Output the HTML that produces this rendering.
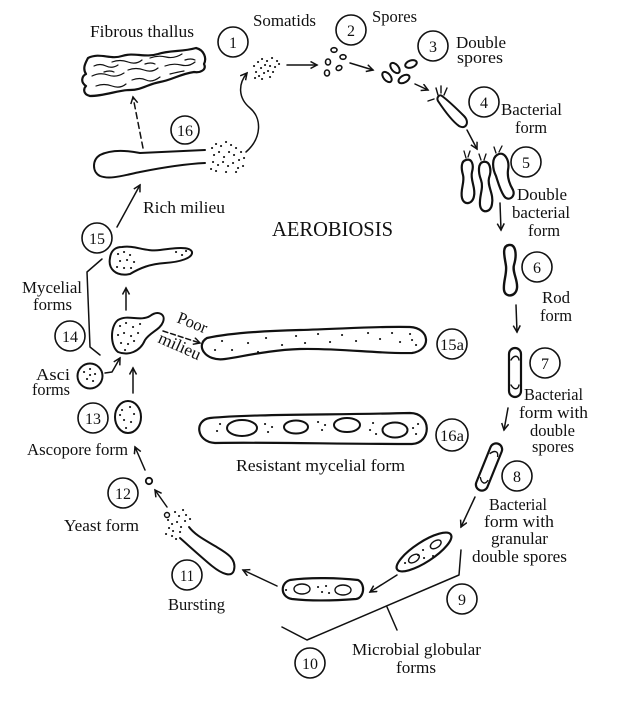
<!DOCTYPE html>
<html><head><meta charset="utf-8"><style>
html,body{margin:0;padding:0;background:#fff;}
svg{display:block;}
text{font-family:"Liberation Serif",serif;fill:#111;}
.l{font-size:17px;}
.n{font-size:16px;text-anchor:middle;}
</style></head><body>
<svg width="625" height="703" viewBox="0 0 625 703" xmlns="http://www.w3.org/2000/svg">
<defs>
<marker id="a" markerWidth="10" markerHeight="10" refX="7" refY="4" orient="auto" markerUnits="userSpaceOnUse">
<path d="M0.5,0.5 L7,4 L0.5,7.5" fill="none" stroke="#111" stroke-width="1.5"/>
</marker>
</defs>
<rect width="625" height="703" fill="#fff"/>
<g fill="none" stroke="#111" stroke-width="1.6" stroke-linecap="round" stroke-linejoin="round">
<!-- numbered circles -->
<circle cx="233" cy="42" r="15"/><circle cx="351" cy="30" r="15"/><circle cx="433" cy="46" r="15"/>
<circle cx="484" cy="102" r="15"/><circle cx="526" cy="162" r="15"/><circle cx="537" cy="267" r="15"/>
<circle cx="545" cy="363" r="15"/><circle cx="517" cy="476" r="15"/><circle cx="462" cy="599" r="15"/>
<circle cx="310" cy="663" r="15"/><circle cx="187" cy="575" r="15"/><circle cx="123" cy="493" r="15"/>
<circle cx="93" cy="418" r="15"/><circle cx="70" cy="336" r="15"/><circle cx="97" cy="238" r="15"/>
<circle cx="185" cy="130" r="14"/><circle cx="452" cy="344" r="15"/><circle cx="452" cy="435" r="16"/>

<!-- arrows -->
<g marker-end="url(#a)" stroke-width="1.5">
<path d="M287,65 L317,65"/>
<path d="M350,63 L373,70"/>
<path d="M415,84 L428,90"/>
<path d="M467,130 L477,149"/>
<path d="M500,203 L501,230"/>
<path d="M516,305 L517,332"/>
<path d="M508,408 L504,430"/>
<path d="M475,497 L461,527"/>
<path d="M397,575 L370,592"/>
<path d="M277,586 L243,570"/>
<path d="M167,507 L155,490"/>
<path d="M145,470 L135,447"/>
<path d="M133,393 L133,368"/>
<path d="M105,373 L112,372 L120,358"/>
<path d="M126,310 L126,288"/>
<path d="M117,227 L140,185"/>
<path d="M143,148 L133,97" stroke-dasharray="6,4"/>
<path d="M163,331 L200,343" stroke-dasharray="5,3"/>
<path d="M246,152 C262,138 262,118 250,108 C238,98 238,84 247,73"/>
</g>

<!-- brackets -->
<path d="M102,259 L87,272 L90,347 L100,355" stroke-width="1.5"/>
<path d="M282,627 L307,640 L459,575 L461,550" stroke-width="1.5"/>
<path d="M387,607 L397,630" stroke-width="1.5"/>

<!-- fibrous thallus -->
<path stroke-width="2.2" d="M88,58 C100,52 110,60 122,56 C134,52 145,58 158,54 C170,50 182,52 196,48 C204,50 207,58 204,64 C207,70 200,73 194,72 C180,74 172,80 160,82 C148,84 142,90 130,90 C118,90 105,96 90,96 C82,94 84,88 86,86 C80,82 82,76 86,74 C82,68 86,62 88,58 Z"/>
<g stroke-width="1.2">
<path d="M94,66 q6,-3 12,0 t12,-1"/><path d="M112,62 q8,-3 16,0 t14,-2"/><path d="M150,58 q8,-3 16,-1 t16,-3"/>
<path d="M92,76 q8,-4 16,-1 t16,-2"/><path d="M128,70 q8,-3 16,0 t14,-2"/><path d="M165,66 q8,-3 16,-1 t14,-3"/>
<path d="M96,86 q8,-3 16,0 t14,-2"/><path d="M132,80 q8,-3 14,0 t14,-3"/><path d="M170,74 q8,-2 14,-3"/>
<path d="M104,72 q6,-2 10,0"/><path d="M145,64 q6,-2 10,0"/><path d="M185,60 q6,-2 10,0"/>
</g>

<!-- form 16 -->
<path stroke-width="2" d="M205,150 C180,151 160,152 140,153 C125,150 110,150 100,155 C92,160 92,172 100,176 C110,180 125,175 140,172 C160,168 185,164 205,163"/>

<!-- spores -->
<g stroke-width="1.6">
<ellipse cx="334" cy="50" rx="3" ry="2.3"/><ellipse cx="343" cy="57" rx="3" ry="2.3"/>
<ellipse cx="328" cy="62" rx="2.5" ry="3"/><ellipse cx="339" cy="68" rx="3" ry="2.3" transform="rotate(-30 339 68)"/>
<ellipse cx="327" cy="73" rx="2.5" ry="3"/>
</g>
<!-- double spores -->
<g stroke-width="2">
<ellipse cx="387" cy="77" rx="3.5" ry="6" transform="rotate(-40 387 77)"/>
<ellipse cx="395" cy="68" rx="3.5" ry="6" transform="rotate(-40 395 68)"/>
<ellipse cx="411" cy="64" rx="6" ry="3.5" transform="rotate(-20 411 64)"/>
<ellipse cx="404" cy="79" rx="6" ry="3.5" transform="rotate(-30 404 79)"/>
</g>
<!-- bacterial form 4 -->
<path stroke-width="2" d="M442,96 C450,102 458,110 464,116 C470,122 466,130 459,126 C452,121 444,110 438,101 C436,97 440,94 442,96 Z"/>
<path stroke-width="1.4" d="M438,95 L436,88 M441,93 L441,86 M444,95 L447,88 M428,101 L434,99"/>
<!-- double bacterial 5 -->
<g stroke-width="2.2">
<path d="M466,160 C472,158 474,165 472,172 C470,180 476,188 474,196 C473,204 464,206 462,198 C460,190 465,182 463,175 C461,168 461,161 466,160 Z"/>
<path d="M483,162 C490,160 492,170 489,178 C487,186 494,194 492,204 C491,213 481,214 480,205 C479,196 484,188 481,180 C478,172 478,163 483,162 Z"/>
<path d="M497,155 C504,150 510,160 508,170 C507,178 510,185 513,190 C516,197 508,202 504,196 C500,190 498,182 496,176 C492,168 492,158 497,155 Z"/>
</g>
<path stroke-width="1.3" d="M466,158 L464,151 M468,157 L470,151 M481,160 L479,154 M484,160 L486,154 M496,153 L494,147 M499,152 L502,146"/>
<!-- rod 6 -->
<path stroke-width="2.4" d="M509,245 C516,244 517,255 514,265 C512,272 518,280 517,288 C516,297 505,298 504,290 C503,282 507,274 506,266 C505,258 501,246 509,245 Z"/>
<!-- rod 7 -->
<rect x="509" y="348" width="12" height="49" rx="6" stroke-width="2.2"/>
<path stroke-width="1.4" d="M511,360 C514,355 518,355 519,360 M511,385 C514,390 518,390 519,385"/>
<!-- rod 8 -->
<g transform="rotate(22 489 467)">
<rect x="483" y="442" width="12" height="50" rx="6" stroke-width="2.2"/>
<path stroke-width="1.4" d="M485,454 C488,449 492,449 493,454 M485,480 C488,485 492,485 493,480"/>
</g>
<!-- form 9 -->
<g transform="rotate(-33 424 552)" stroke-width="2.2">
<ellipse cx="424" cy="552" rx="32" ry="10"/>
<ellipse cx="412" cy="552" rx="6" ry="3.5" stroke-width="1.4"/>
<ellipse cx="438" cy="552" rx="6" ry="3.5" stroke-width="1.4"/>
</g>
<!-- form 10 -->
<path stroke-width="2.2" d="M290,580 C310,577 340,578 358,580 C366,584 364,598 356,599 C330,601 310,601 292,599 C280,597 280,583 290,580 Z"/>
<ellipse cx="302" cy="589" rx="8" ry="5" stroke-width="1.4"/>
<ellipse cx="343" cy="590" rx="8" ry="5" stroke-width="1.4"/>
<!-- form 11 -->
<path stroke-width="2" d="M189,527 C195,535 205,540 215,546 C225,552 237,558 234,570 C232,578 222,574 212,566 C200,556 188,545 180,538"/>
<!-- yeast 12 -->
<circle cx="149" cy="481" r="3.2" stroke-width="1.8"/>
<circle cx="167" cy="515" r="2.5" stroke-width="1.4"/>
<!-- ascopore 13 -->
<ellipse cx="128" cy="417" rx="13" ry="16" stroke-width="2"/>
<!-- asci -->
<circle cx="90" cy="376" r="12.5" stroke-width="2"/>
<!-- form 14 -->
<path stroke-width="2" d="M118,320 C128,314 140,322 150,316 C158,310 166,314 163,322 C160,330 150,332 145,340 C140,352 128,356 118,352 C110,346 110,326 118,320 Z"/>
<!-- form 15 -->
<path stroke-width="2" d="M122,247 C135,245 145,252 160,250 C175,248 190,246 192,252 C193,258 180,262 165,263 C150,264 140,268 130,274 C115,277 108,268 110,258 C111,250 116,247 122,247 Z"/>
<!-- 15a -->
<path stroke-width="2.2" d="M207,338 C230,333 260,331 300,330 C340,329 380,326 410,327 C430,328 432,350 412,353 C380,354 340,348 300,349 C270,350 245,356 225,359 C205,362 195,345 207,338 Z"/>
<!-- 16a -->
<path stroke-width="2.2" d="M210,418 C250,414 330,415 410,413 C432,413 432,443 412,444 C340,444 260,442 215,443 C196,442 194,420 210,418 Z"/>
<ellipse cx="242" cy="428" rx="15" ry="8" stroke-width="2"/>
<ellipse cx="296" cy="427" rx="12" ry="6.5" stroke-width="2"/>
<ellipse cx="347" cy="425" rx="13" ry="7" stroke-width="2"/>
<ellipse cx="395" cy="430" rx="12.5" ry="7.5" stroke-width="2"/>
</g>

<!-- dots -->
<path fill="none" stroke="#111" stroke-width="2.1" stroke-linecap="round" d="
M254 66h.1M258 62h.1M262 59h.1M267 61h.1M272 58h.1M277 61h.1M256 72h.1M261 68h.1M265 65h.1M270 66h.1M275 67h.1M279 64h.1M259 76h.1M264 73h.1M268 71h.1M273 72h.1M262 79h.1M270 77h.1M255 78h.1
M212 148h.1M216 144h.1M221 146h.1M226 142h.1M231 145h.1M236 148h.1M241 152h.1M214 155h.1M219 152h.1M224 157h.1M229 152h.1M234 155h.1M239 160h.1M244 158h.1M213 162h.1M218 165h.1M223 162h.1M228 166h.1M233 163h.1M238 168h.1M243 166h.1M216 171h.1M226 172h.1M236 172h.1M211 169h.1
M168 520h.1M172 524h.1M175 512h.1M179 516h.1M183 510h.1M186 515h.1M190 519h.1M169 528h.1M173 531h.1M177 522h.1M181 527h.1M185 521h.1M172 536h.1M176 539h.1M166 534h.1M180 532h.1
M118 254h.1M124 252h.1M130 255h.1M120 261h.1M127 260h.1M134 262h.1M117 267h.1M124 268h.1M131 268h.1M176 252h.1M182 255h.1M186 251h.1
M120 326h.1M126 323h.1M133 327h.1M140 324h.1M118 335h.1M124 333h.1M131 336h.1M138 333h.1M121 343h.1M128 344h.1M134 341h.1M125 350h.1
M84 372h.1M90 369h.1M95 374h.1M87 379h.1M93 381h.1M90 375h.1
M122 410h.1M130 407h.1M134 414h.1M124 420h.1M131 422h.1M126 428h.1M120 415h.1
M215 350h.1M222 341h.1M232 350h.1M248 343h.1M258 352h.1M266 338h.1M282 345h.1M296 336h.1M305 343h.1M318 334h.1M330 342h.1M342 335h.1M356 341h.1M368 333h.1M380 339h.1M392 333h.1M400 342h.1M410 334h.1M416 345h.1M412 340h.1
M217 431h.1M220 424h.1M265 424h.1M268 432h.1M272 427h.1M318 422h.1M322 430h.1M325 425h.1M370 430h.1M373 423h.1M376 434h.1M413 428h.1M416 434h.1M418 424h.1
M418 555h.1M423 550h.1M424 558h.1M433 556h.1M405 563h.1
M318 587h.1M322 592h.1M326 586h.1M329 593h.1M286 590h.1
"/>

<!-- number labels -->
<text class="n" x="233" y="48">1</text>
<text class="n" x="351" y="36">2</text>
<text class="n" x="433" y="52">3</text>
<text class="n" x="484" y="108">4</text>
<text class="n" x="526" y="168">5</text>
<text class="n" x="537" y="273">6</text>
<text class="n" x="545" y="369">7</text>
<text class="n" x="517" y="482">8</text>
<text class="n" x="462" y="605">9</text>
<text class="n" x="310" y="669" textLength="16" lengthAdjust="spacingAndGlyphs">10</text>
<text class="n" x="187" y="581" textLength="14" lengthAdjust="spacingAndGlyphs">11</text>
<text class="n" x="123" y="499" textLength="16" lengthAdjust="spacingAndGlyphs">12</text>
<text class="n" x="93" y="424" textLength="16" lengthAdjust="spacingAndGlyphs">13</text>
<text class="n" x="70" y="342" textLength="16" lengthAdjust="spacingAndGlyphs">14</text>
<text class="n" x="97" y="244" textLength="16" lengthAdjust="spacingAndGlyphs">15</text>
<text class="n" x="185" y="136" textLength="16" lengthAdjust="spacingAndGlyphs">16</text>
<text class="n" x="452" y="350" textLength="24" lengthAdjust="spacingAndGlyphs">15a</text>
<text class="n" x="452" y="441" textLength="24" lengthAdjust="spacingAndGlyphs">16a</text>

<!-- labels -->
<text class="l" x="90" y="37" textLength="104" lengthAdjust="spacingAndGlyphs">Fibrous thallus</text>
<text class="l" x="253" y="26" textLength="63" lengthAdjust="spacingAndGlyphs">Somatids</text>
<text class="l" x="372" y="22" textLength="45" lengthAdjust="spacingAndGlyphs">Spores</text>
<text class="l" x="456" y="48" textLength="50" lengthAdjust="spacingAndGlyphs">Double</text>
<text class="l" x="457" y="63" textLength="46" lengthAdjust="spacingAndGlyphs">spores</text>
<text class="l" x="501" y="115" textLength="61" lengthAdjust="spacingAndGlyphs">Bacterial</text>
<text class="l" x="515" y="133" textLength="32" lengthAdjust="spacingAndGlyphs">form</text>
<text class="l" x="517" y="200" textLength="50" lengthAdjust="spacingAndGlyphs">Double</text>
<text class="l" x="512" y="218" textLength="58" lengthAdjust="spacingAndGlyphs">bacterial</text>
<text class="l" x="528" y="236" textLength="32" lengthAdjust="spacingAndGlyphs">form</text>
<text x="272" y="236" style="font-size:21px" textLength="121" lengthAdjust="spacingAndGlyphs">AEROBIOSIS</text>
<text class="l" x="143" y="213" textLength="82" lengthAdjust="spacingAndGlyphs">Rich milieu</text>
<text class="l" x="542" y="303" textLength="28" lengthAdjust="spacingAndGlyphs">Rod</text>
<text class="l" x="540" y="321" textLength="32" lengthAdjust="spacingAndGlyphs">form</text>
<text class="l" x="524" y="400" textLength="59" lengthAdjust="spacingAndGlyphs">Bacterial</text>
<text class="l" x="519" y="418" textLength="69" lengthAdjust="spacingAndGlyphs">form with</text>
<text class="l" x="530" y="436" textLength="45" lengthAdjust="spacingAndGlyphs">double</text>
<text class="l" x="532" y="452" textLength="42" lengthAdjust="spacingAndGlyphs">spores</text>
<text class="l" x="489" y="510" textLength="58" lengthAdjust="spacingAndGlyphs">Bacterial</text>
<text class="l" x="484" y="527" textLength="70" lengthAdjust="spacingAndGlyphs">form with</text>
<text class="l" x="491" y="544" textLength="57" lengthAdjust="spacingAndGlyphs">granular</text>
<text class="l" x="472" y="562" textLength="95" lengthAdjust="spacingAndGlyphs">double spores</text>
<text class="l" x="352" y="655" textLength="129" lengthAdjust="spacingAndGlyphs">Microbial globular</text>
<text class="l" x="396" y="673" textLength="40" lengthAdjust="spacingAndGlyphs">forms</text>
<text class="l" x="168" y="610" textLength="57" lengthAdjust="spacingAndGlyphs">Bursting</text>
<text class="l" x="64" y="531" textLength="75" lengthAdjust="spacingAndGlyphs">Yeast form</text>
<text class="l" x="27" y="455" textLength="101" lengthAdjust="spacingAndGlyphs">Ascopore form</text>
<text class="l" x="36" y="380" textLength="34" lengthAdjust="spacingAndGlyphs">Asci</text>
<text class="l" x="32" y="395" textLength="38" lengthAdjust="spacingAndGlyphs">forms</text>
<text class="l" x="22" y="293" textLength="60" lengthAdjust="spacingAndGlyphs">Mycelial</text>
<text class="l" x="33" y="310" textLength="39" lengthAdjust="spacingAndGlyphs">forms</text>
<text class="l" x="236" y="471" textLength="169" lengthAdjust="spacingAndGlyphs">Resistant mycelial form</text>
<text class="l" transform="translate(176,322) rotate(22)" textLength="31" lengthAdjust="spacingAndGlyphs">Poor</text>
<text class="l" transform="translate(157,342) rotate(24)" textLength="45" lengthAdjust="spacingAndGlyphs">milieu</text>
</svg>
</body></html>
